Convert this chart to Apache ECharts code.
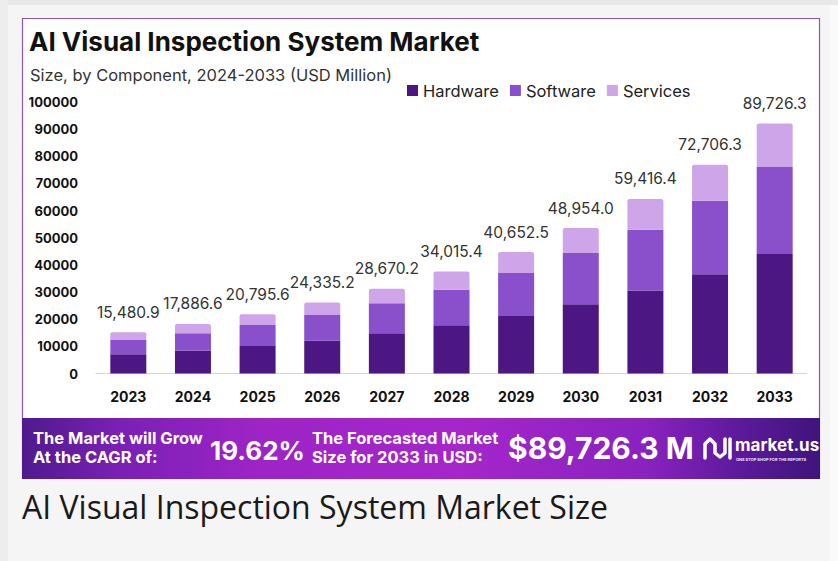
<!DOCTYPE html>
<html>
<head>
<meta charset="utf-8">
<script src="https://cdn.jsdelivr.net/npm/echarts@6/dist/echarts.min.js"></script>
<style>
html,body{margin:0;padding:0;background:#f5f5f5;}
#chart{width:838px;height:561px;}
</style>
</head>
<body>
<div id="chart"></div>
<script>
const categories = ['2023','2024','2025','2026','2027','2028','2029','2030','2031','2032','2033'];
const hardware = [7080, 8410, 10150, 12100, 14830, 17790, 21220, 25540, 30550, 36600, 43990];
const software = [5280, 6420, 7750, 9480, 11000, 13030, 15760, 18820, 22400, 27050, 32100];
const services = [2840, 3430, 3950, 4540, 5350, 6750, 7750, 9230, 11330, 13280, 15980];
const totalLabels = ['15,480.9','17,886.6','20,795.6','24,335.2','28,670.2','34,015.4','40,652.5','48,954.0','59,416.4','72,706.3','89,726.3'];

const FONT = 'Inter, Lato, sans-serif';
const chart = echarts.init(document.getElementById('chart'), null, {renderer:'svg'});

const option = {
  animation:false,
  textStyle:{fontFamily:FONT},
  title:[
    {text:'AI Visual Inspection System Market', left:29, top:28, padding:0,
     textStyle:{fontSize:26, fontWeight:'bold', color:'#111', fontFamily:FONT}},
    {text:'Size, by Component, 2024-2033 (USD Million)', left:30, top:66, padding:0,
     textStyle:{fontSize:16.5, fontWeight:'normal', color:'#333', fontFamily:FONT}}
  ],
  legend:{
    left:402, top:77, itemWidth:11, itemHeight:11, itemGap:11, icon:'rect',
    textStyle:{fontSize:16.5, color:'#222', fontFamily:FONT},
    data:['Hardware','Software','Services']
  },
  grid:{left:96, right:31, top:102, bottom:187.5, containLabel:false},
  xAxis:{
    type:'category', data:categories,
    axisLine:{lineStyle:{color:'#d4d4d4'}},
    axisTick:{show:false},
    axisLabel:{margin:16, fontSize:14, fontWeight:'bold', color:'#111', fontFamily:FONT}
  },
  yAxis:{
    type:'value', min:0, max:100000, interval:10000,
    axisLine:{show:false}, axisTick:{show:false}, splitLine:{show:false},
    axisLabel:{margin:18, fontSize:13, fontWeight:'bold', color:'#111', fontFamily:FONT,
      formatter:function(v){return String(v);}}
  },
  series:[
    {name:'Hardware', type:'bar', stack:'t', data:hardware, barWidth:36,
     itemStyle:{color:'#4c1782'}},
    {name:'Software', type:'bar', stack:'t', data:software, barWidth:36,
     itemStyle:{color:'#8a4fcb'}},
    {name:'Services', type:'bar', stack:'t', data:services, barWidth:36,
     itemStyle:{color:'#cfa5e9', borderRadius:[2,2,0,0]},
     label:{show:true, position:'top', distance:12, fontSize:15.5, color:'#333', fontFamily:FONT,
       formatter:function(p){return totalLabels[p.dataIndex];}}}
  ],
  graphic:[
    {type:'rect', z:-20, shape:{x:0,y:0,width:838,height:5}, style:{fill:'#e8e8e8'}},
    {type:'rect', z:-20, shape:{x:0,y:0,width:8,height:561}, style:{fill:'#ededed'}},
    {type:'rect', z:-20, shape:{x:830,y:5,width:8,height:556}, style:{fill:'#fafafa'}},
    {type:'rect', z:-10, shape:{x:22.5,y:18.5,width:797,height:460}, style:{fill:'#ffffff', stroke:'#8a55c0', lineWidth:1.2}},
    {type:'rect', z:-5, shape:{x:22,y:418,width:798,height:61},
     style:{fill:{type:'linear', x:0, y:0, x2:1, y2:0, colorStops:[
       {offset:0, color:'#4f1a8e'}, {offset:0.12, color:'#7a20b4'}, {offset:0.3, color:'#9e24c6'},
       {offset:0.55, color:'#a526cb'}, {offset:0.78, color:'#8a22c0'}, {offset:0.9, color:'#5c1a9a'},
       {offset:1, color:'#3f147c'}]}}},
    {type:'text', z:100, left:33, top:428,
     style:{text:'The Market will Grow\nAt the CAGR of:', fill:'#fff', font:'bold 16.5px '+FONT, lineHeight:19}},
    {type:'text', z:100, left:210, top:437,
     style:{text:'19.62%', fill:'#fff', font:'bold 26px '+FONT, shadowBlur:4, shadowColor:'rgba(0,0,0,0.35)', shadowOffsetY:1}},
    {type:'text', z:100, left:312, top:428,
     style:{text:'The Forecasted Market\nSize for 2033 in USD:', fill:'#fff', font:'bold 16.5px '+FONT, lineHeight:19}},
    {type:'text', z:100, left:508, top:433,
     style:{text:'$89,726.3 M', fill:'#fff', font:'bold 30px '+FONT, shadowBlur:4, shadowColor:'rgba(0,0,0,0.35)', shadowOffsetY:1}},
    {type:'polyline', z:100, shape:{points:[[705,458],[705,444],[710,439],[715,444],[715,453],[720,457],[725,453],[725,439]]},
     style:{stroke:'#fff', lineWidth:3.5, fill:null, lineCap:'round', lineJoin:'round'}},
    {type:'line', z:100, shape:{x1:730,y1:439,x2:730,y2:458}, style:{stroke:'#fff', lineWidth:3.5, lineCap:'round'}},
    {type:'text', z:100, left:735, top:436,
     style:{text:'market.us', fill:'#fff', font:'bold 17px '+FONT}},
    {type:'text', z:100, left:736, top:457,
     style:{text:'ONE STOP SHOP FOR THE REPORTS', fill:'#f0e0ff', font:'bold 4px '+FONT}},
    {type:'text', z:100, left:22, top:490,
     style:{text:'AI Visual Inspection System Market Size', fill:'#1a1a1a', font:'32px "Open Sans", sans-serif'}}
  ]
};
chart.setOption(option);
</script>
</body>
</html>
